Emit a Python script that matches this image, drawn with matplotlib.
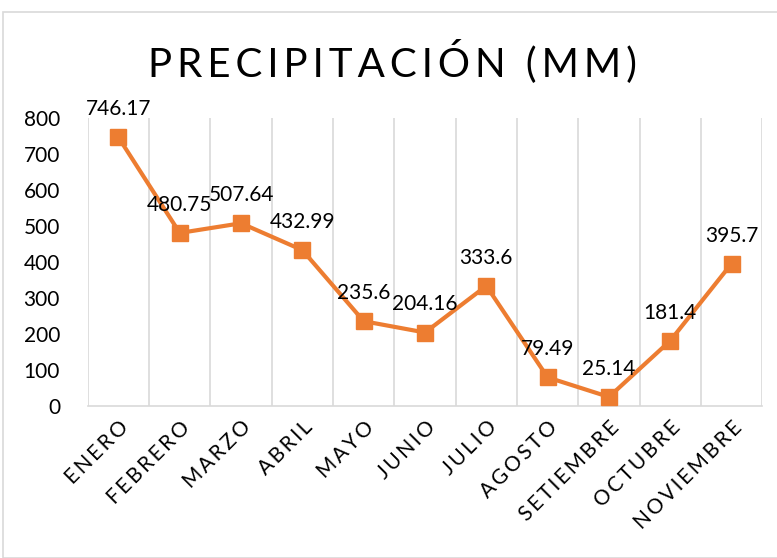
import numpy as np
import matplotlib.pyplot as plt
from matplotlib.patches import Rectangle

meses = ["ENERO", "FEBRERO", "MARZO", "ABRIL", "MAYO", "JUNIO", "JULIO",
         "AGOSTO", "SETIEMBRE", "OCTUBRE", "NOVIEMBRE"]
precip = [746.17, 480.75, 507.64, 432.99, 235.6, 204.16, 333.6,
          79.49, 25.14, 181.4, 395.7]
etiquetas = ["746.17", "480.75", "507.64", "432.99", "235.6", "204.16", "333.6",
             "79.49", "25.14", "181.4", "395.7"]

plt.rcParams['font.family'] = ['Lato', 'DejaVu Sans']

fig = plt.figure(figsize=(7.77, 5.58), dpi=100)
ax = fig.add_axes([0.113, 0.2724, 0.868, 0.5161])

x = np.arange(len(meses))
ax.plot(x, precip, color="#ED7D31", lw=3, marker="s", markersize=11, zorder=3)
for xi, v, t in zip(x, precip, etiquetas):
    ax.annotate(t, (xi, v), xytext=(0, 13), textcoords="offset points",
                ha="center", va="bottom", fontsize=15, color="black")

ax.set_xlim(-0.5, len(meses) - 0.5)
ax.set_ylim(0, 800)
ax.set_yticks(range(0, 801, 100))
ax.set_xticks(x)
ax.set_xticklabels(["\u2009".join(m) for m in meses], rotation=45, ha="right",
                   rotation_mode="anchor", fontsize=14)
ax.set_xticks(np.arange(-0.5, len(meses)), minor=True)
ax.grid(axis="x", which="minor", color="#D9D9D9", lw=1.2)
ax.tick_params(axis="both", which="both", length=0, labelsize=15)
ax.tick_params(axis="x", pad=8)
ax.tick_params(axis="y", pad=20)
for s in ["top", "right", "left"]:
    ax.spines[s].set_visible(False)
ax.spines["bottom"].set_color("#D9D9D9")
ax.spines["bottom"].set_linewidth(1.2)

titulo = "PRECIPITACIÓN (MM)"
fig.text(0.505, 0.89, "\u2009".join(titulo), ha="center", va="center",
         fontsize=29)
fig.patches.append(Rectangle((0.004, 0.0), 1.2, 0.978, transform=fig.transFigure,
                             fill=False, edgecolor="#D9D9D9", lw=1.2))

plt.savefig("out.png")
